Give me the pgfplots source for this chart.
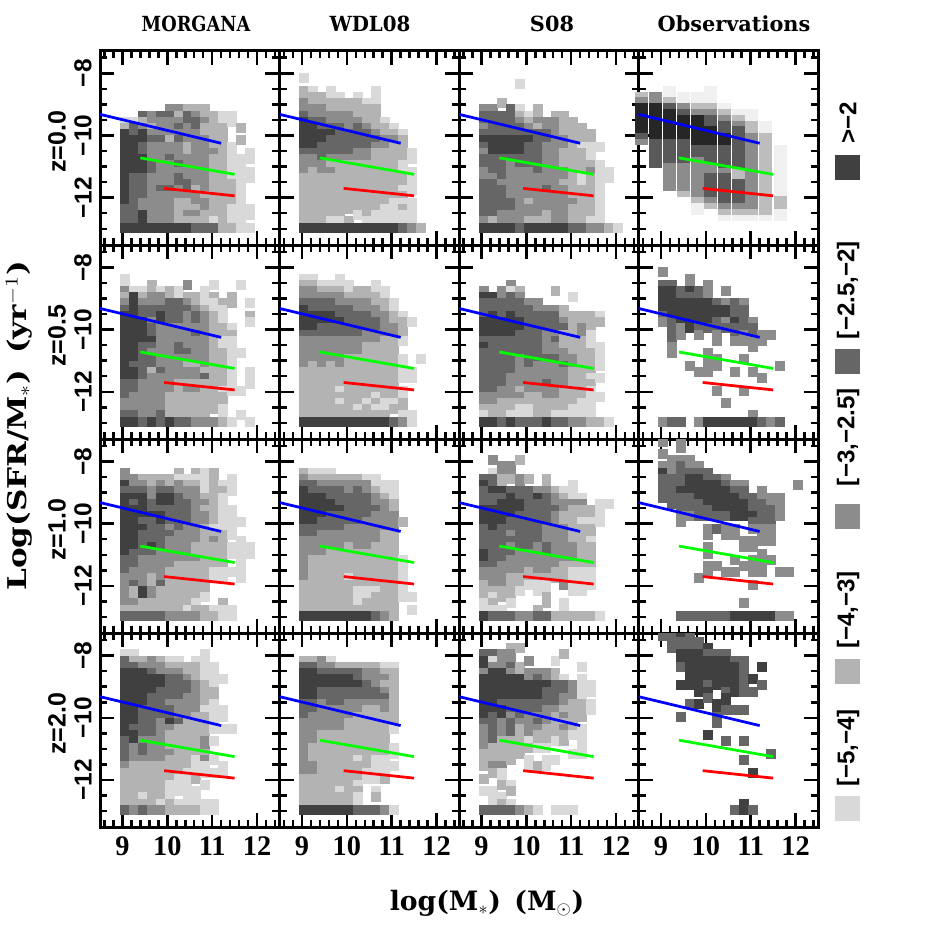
\documentclass[border=0pt]{standalone}
\usepackage{fontspec}
\usepackage{pgfplots}
\usepackage{pgfplotstable}
\pgfplotsset{compat=1.18}
\setmainfont{DejaVu Serif}
\newfontfamily\lsans{Liberation Sans}
\newfontfamily\lserif{Liberation Serif}

\definecolor{gA}{HTML}{D9D9D9}
\definecolor{gB}{HTML}{B3B3B3}
\definecolor{gC}{HTML}{8C8C8C}
\definecolor{gD}{HTML}{666666}
\definecolor{gE}{HTML}{404040}
% obs z=0 shades
\definecolor{oA}{HTML}{F0F0F0}
\definecolor{oB}{HTML}{BDBDBD}
\definecolor{oC}{HTML}{8C8C8C}
\definecolor{oD}{HTML}{595959}
\definecolor{oE}{HTML}{262626}

% tables: y of the row, then grey level (0 = empty) of 16 mass bins
\pgfplotstableread[header=false]{
-9.16 0 0 0 0 0 3 3 2 2 2 0 0 0 0 0 0
-9.36 0 0 4 3 4 4 2 4 3 2 2 1 1 0 0 0
-9.56 1 1 2 3 3 3 3 4 4 3 2 1 1 0 0 0
-9.76 2 4 3 2 3 3 4 3 4 2 2 2 0 2 0 0
-9.96 5 4 5 3 3 3 3 3 3 2 2 2 0 0 0 0
-10.16 5 5 5 4 4 2 4 3 3 3 2 2 0 2 0 0
-10.36 5 5 4 3 3 3 3 2 3 3 2 2 1 0 0 0
-10.56 5 5 4 3 3 3 3 2 3 3 3 2 1 0 1 0
-10.76 5 5 5 3 3 4 3 3 3 3 2 2 1 1 1 0
-10.96 5 5 5 4 3 3 4 3 3 3 2 2 1 1 0 0
-11.16 5 5 5 4 3 3 3 3 3 3 2 2 1 1 1 0
-11.36 5 4 4 3 3 3 4 3 3 3 2 2 1 1 1 0
-11.56 5 4 4 3 3 3 4 4 3 3 2 2 2 1 0 0
-11.76 5 4 4 3 4 4 3 4 2 3 2 2 2 1 0 0
-11.96 5 4 4 3 3 3 3 3 3 2 2 2 2 1 0 0
-12.16 5 4 3 3 3 3 2 2 3 3 2 2 2 1 0 0
-12.36 4 4 3 3 3 3 2 2 2 3 2 2 1 1 1 0
-12.56 4 4 5 3 3 3 2 3 3 2 2 2 1 1 1 0
-12.76 4 4 5 3 3 3 2 2 2 2 1 2 1 1 0 0
-12.96 5 5 5 5 5 5 5 5 4 4 4 2 2 1 1 0
}\tAa
\pgfplotstableread[header=false]{
-8.16 1 0 0 0 0 0 0 0 0 0 0 0 0 0 0 0
-8.56 2 1 0 1 0 0 0 0 1 0 0 0 0 0 0 0
-8.76 2 2 2 1 1 0 1 0 1 0 0 0 0 0 0 0
-8.96 3 2 2 2 2 2 2 1 1 0 0 0 0 0 0 0
-9.16 3 3 3 2 2 2 2 2 2 0 0 0 0 0 0 0
-9.36 4 3 3 3 3 3 2 2 2 0 0 0 0 0 0 0
-9.56 5 4 4 3 3 3 3 2 2 1 0 0 0 0 0 0
-9.76 5 5 4 4 4 3 4 3 2 2 1 0 0 0 0 0
-9.96 5 5 5 5 4 4 4 4 3 2 2 1 0 0 0 0
-10.16 5 5 5 4 4 4 4 4 4 3 3 2 0 0 0 0
-10.36 5 5 4 4 4 4 4 4 3 3 2 2 0 0 0 0
-10.56 4 4 4 4 4 4 3 3 2 2 2 2 1 0 0 0
-10.76 3 3 4 3 3 3 3 3 2 2 2 2 1 0 0 0
-10.96 3 3 3 2 2 2 2 2 2 2 2 1 0 0 0 0
-11.16 3 2 3 3 2 2 2 2 2 2 2 1 1 0 0 0
-11.36 2 2 2 2 2 2 2 2 2 2 2 2 1 0 0 0
-11.56 2 2 2 2 2 2 2 2 2 2 2 2 1 0 0 0
-11.76 2 2 2 2 2 2 2 2 2 2 2 1 1 0 0 0
-11.96 2 2 2 2 2 2 2 2 2 2 2 2 0 0 0 0
-12.16 2 2 2 2 2 2 2 2 2 2 1 1 1 0 0 0
-12.36 2 2 2 2 2 2 2 2 2 1 1 2 1 0 0 0
-12.56 2 2 2 2 2 0 1 2 1 1 1 1 1 0 0 0
-12.76 2 2 2 1 1 2 0 1 1 1 1 1 1 0 0 0
-12.96 5 5 5 5 5 5 5 5 5 5 5 4 3 2 0 0
}\tAb
\pgfplotstableread[header=false]{
-8.36 0 0 0 0 1 0 0 0 0 0 0 0 0 0 0 0
-8.96 0 0 2 0 0 0 0 0 0 0 0 0 0 0 0 0
-9.16 3 3 0 4 1 0 2 0 0 0 0 0 0 0 0 0
-9.36 4 4 4 4 2 1 2 0 2 2 0 0 0 0 0 0
-9.56 4 4 4 4 3 2 3 3 3 2 2 0 0 0 0 0
-9.76 3 4 4 4 4 3 2 3 3 2 2 2 0 0 0 0
-9.96 4 4 4 4 4 4 4 4 3 2 2 2 2 0 0 0
-10.16 5 5 5 5 5 5 4 4 3 3 2 2 2 0 0 0
-10.36 4 5 5 5 5 4 4 3 3 3 2 1 1 1 0 0
-10.56 3 5 5 5 5 4 4 3 3 2 2 2 1 0 0 0
-10.76 4 4 4 4 4 4 4 3 3 2 2 2 1 0 0 0
-10.96 4 4 4 3 4 4 4 3 3 2 2 2 2 1 0 0
-11.16 3 4 4 3 3 3 4 3 3 3 2 2 3 1 1 0
-11.36 3 3 4 3 3 3 3 3 3 3 2 1 2 1 1 0
-11.56 4 4 3 3 3 3 3 3 3 2 2 1 2 1 0 0
-11.76 4 4 4 3 3 3 3 4 3 3 2 2 2 1 0 0
-11.96 4 4 4 3 3 3 3 3 3 3 2 2 2 1 0 0
-12.16 4 4 4 4 3 2 3 3 3 3 3 2 2 1 0 0
-12.36 4 4 4 4 3 3 3 3 3 3 2 2 2 1 0 0
-12.56 4 4 3 3 3 3 3 2 3 3 2 2 2 1 0 0
-12.76 3 2 3 3 3 2 2 2 3 3 2 2 1 1 0 0
-12.96 5 5 5 5 4 5 5 5 5 5 4 4 3 3 2 1
}\tAc

\pgfplotstableread[header=false]{
-8.36 1 0 0 0 0 0 0 0 0 0 0 0 0 0 0 0
-8.56 1 0 0 2 0 0 0 3 0 0 1 0 0 1 0 0
-8.76 3 1 1 2 1 2 1 0 0 1 0 0 0 0 0 0
-8.96 2 5 2 3 3 2 1 2 2 1 2 0 2 0 0 0
-9.16 3 5 3 3 3 4 4 3 2 1 1 2 2 0 1 0
-9.36 4 5 4 4 4 4 4 4 3 2 1 1 0 0 0 0
-9.56 5 5 4 4 5 4 4 3 4 3 2 1 0 0 2 0
-9.76 5 5 5 3 5 4 4 3 4 3 2 1 0 0 1 0
-9.96 5 5 5 4 3 3 3 3 3 3 2 2 1 0 0 0
-10.16 5 5 5 4 3 3 3 3 4 3 2 2 2 0 0 0
-10.36 5 5 5 5 3 3 3 3 3 3 2 1 1 0 0 0
-10.56 5 5 4 4 3 3 4 3 3 3 2 1 1 0 0 0
-10.76 5 5 4 3 3 3 4 4 3 3 2 2 1 1 0 0
-10.96 5 5 4 4 3 3 3 3 3 3 2 2 1 0 0 0
-11.16 5 4 4 4 3 3 3 2 2 3 2 2 1 0 0 0
-11.36 5 5 4 2 4 3 3 3 3 2 2 2 1 0 1 0
-11.56 5 5 4 3 3 3 3 3 3 4 2 2 1 0 1 0
-11.76 4 4 3 3 3 3 2 2 2 2 2 2 1 0 1 0
-11.96 4 4 3 3 3 3 2 3 3 2 2 1 1 1 0 0
-12.16 4 3 3 3 3 2 2 2 2 2 2 2 0 0 0 0
-12.36 3 3 3 3 3 2 2 2 2 2 2 2 0 0 0 0
-12.56 3 3 3 3 3 2 2 2 2 2 2 1 0 0 0 0
-12.76 4 4 3 3 4 2 2 2 2 2 0 1 0 1 0 0
-12.96 5 5 4 5 4 5 4 4 3 3 3 2 1 0 1 0
}\tBa
\pgfplotstableread[header=false]{
-8.36 1 1 0 0 1 0 0 0 0 0 0 0 0 0 0 0
-8.56 2 2 1 1 1 1 0 0 1 0 0 0 0 0 0 0
-8.76 3 3 2 2 2 1 2 2 1 1 0 0 0 0 0 0
-8.96 3 3 3 3 3 2 2 2 2 1 0 0 0 0 0 0
-9.16 4 4 4 4 3 3 3 3 2 2 1 0 0 0 0 0
-9.36 5 4 4 4 4 4 3 3 3 2 1 0 0 0 0 0
-9.56 5 5 5 5 4 4 4 4 3 3 2 1 0 0 0 0
-9.76 5 5 5 5 5 4 4 4 4 3 2 2 1 0 0 0
-9.96 5 5 4 4 4 4 4 4 4 3 3 2 0 0 0 0
-10.16 4 4 4 4 4 4 4 3 3 3 3 2 0 0 0 0
-10.36 3 3 3 3 3 3 3 3 3 2 2 1 0 0 0 0
-10.56 3 3 3 3 3 3 3 2 2 2 2 0 0 0 0 0
-10.76 3 3 3 3 3 3 3 2 2 2 2 0 0 0 0 0
-10.96 3 3 3 3 3 2 2 2 2 2 2 1 0 1 0 0
-11.16 3 2 3 2 3 2 2 2 2 2 2 1 0 0 0 0
-11.36 2 2 2 2 2 2 2 2 2 2 2 1 1 0 0 0
-11.56 2 2 2 2 2 2 2 2 2 2 2 1 1 0 0 0
-11.76 2 2 2 2 2 2 2 2 2 2 2 0 0 0 0 0
-11.96 2 2 2 2 1 2 2 2 2 2 2 1 0 0 0 0
-12.16 2 2 2 2 2 2 2 2 1 2 2 1 0 0 0 0
-12.36 2 2 2 2 1 2 2 1 2 1 1 2 0 0 0 0
-12.56 2 2 2 2 2 2 1 2 1 1 2 2 0 0 0 0
-12.76 2 2 2 2 2 2 2 2 2 2 0 1 1 0 0 0
-12.96 5 5 5 5 5 5 5 5 5 5 4 3 1 0 0 0
}\tBb
\pgfplotstableread[header=false]{
-8.56 0 0 0 3 0 0 0 0 0 0 0 0 0 0 0 0
-8.76 3 0 3 1 2 0 0 0 2 0 0 0 0 0 0 0
-8.96 5 5 3 4 3 0 0 0 0 0 1 0 0 0 0 0
-9.16 4 4 4 4 4 3 3 0 0 0 0 0 0 0 0 0
-9.36 4 4 4 4 4 4 3 3 3 2 0 0 0 0 0 0
-9.56 4 5 4 5 4 4 4 4 4 2 2 2 2 1 0 0
-9.76 5 5 5 5 5 4 4 4 4 3 2 2 2 2 0 0
-9.96 5 5 5 5 5 4 4 4 4 4 2 3 2 0 0 0
-10.16 5 5 5 5 4 4 4 3 3 2 2 3 1 0 0 0
-10.36 4 4 4 4 4 4 4 3 4 2 2 2 1 0 0 0
-10.56 5 4 4 4 4 4 4 3 3 2 2 2 1 1 0 0
-10.76 4 4 4 4 4 4 4 3 3 3 2 2 2 1 0 0
-10.96 4 4 4 4 3 4 4 4 4 3 3 2 2 1 0 0
-11.16 4 4 4 4 3 4 3 3 3 4 3 2 2 1 0 0
-11.36 4 4 4 4 3 3 3 3 3 3 2 2 2 0 0 0
-11.56 4 4 4 3 3 3 3 3 3 3 2 2 1 1 0 0
-11.76 4 4 4 3 3 3 3 4 3 3 2 2 2 0 0 0
-11.96 4 4 3 3 2 3 3 3 3 2 2 2 1 0 0 0
-12.16 3 3 3 3 3 2 2 3 3 2 2 2 1 1 0 0
-12.36 3 3 2 2 2 2 2 2 2 2 2 1 1 0 0 0
-12.56 2 2 2 2 1 1 2 2 2 2 1 1 1 0 0 0
-12.76 1 2 2 1 1 1 2 2 1 1 1 1 1 0 0 0
-12.96 5 5 4 5 4 4 4 5 4 4 3 3 2 2 1 0
}\tBc
\pgfplotstableread[header=false]{
-8.16 3 0 0 0 0 0 0 0 0 0 0 0 0 0 0 0
-8.36 0 0 0 3 0 0 0 0 0 0 0 0 0 0 0 0
-8.56 4 4 0 3 0 3 0 0 0 0 0 0 0 0 0 0
-8.76 5 5 4 5 4 3 0 3 0 0 0 0 0 0 0 0
-8.96 5 5 4 4 4 3 0 0 0 0 0 0 0 0 0 0
-9.16 5 5 5 5 5 5 4 3 4 3 0 0 0 0 0 0
-9.36 5 5 5 5 5 5 5 5 4 4 0 0 0 0 0 0
-9.56 4 5 5 5 5 5 5 5 4 4 0 0 0 0 0 0
-9.76 3 4 5 5 5 5 4 3 5 4 3 0 0 0 0 0
-9.96 0 4 3 5 4 4 4 4 4 4 4 0 0 0 0 0
-10.16 0 4 3 0 3 0 3 0 4 3 4 3 3 0 0 0
-10.36 0 4 0 0 0 0 3 0 3 3 3 3 0 0 0 0
-10.56 0 3 0 0 0 0 0 0 0 0 3 0 0 0 0 0
-10.76 0 3 0 0 0 3 0 0 0 0 0 0 0 0 0 0
-10.96 0 0 0 0 0 3 3 0 0 3 0 0 0 0 0 0
-11.16 0 0 0 3 0 3 3 0 0 0 0 0 0 3 0 0
-11.36 0 0 0 0 3 3 0 0 3 0 3 0 0 0 0 0
-11.56 0 0 0 0 0 0 0 0 0 0 0 3 0 0 0 0
-11.96 0 0 0 0 0 0 3 0 0 3 0 0 0 0 0 0
-12.36 0 0 0 0 0 0 0 3 0 0 0 0 0 0 0 0
-12.76 0 0 0 0 0 0 0 0 0 0 3 0 0 0 0 0
-12.96 3 4 4 0 3 5 5 5 5 5 5 4 3 4 0 0
}\tBd

\pgfplotstableread[header=false]{
-8.36 3 0 0 0 0 0 2 0 2 1 2 0 0 0 0 0
-8.56 3 3 2 2 2 2 1 1 1 1 2 0 1 0 0 0
-8.76 5 3 3 2 3 2 3 2 2 1 2 1 1 0 0 0
-8.96 4 4 4 3 4 4 3 3 3 1 2 2 1 0 0 0
-9.16 5 5 5 3 5 5 4 3 3 2 2 1 0 0 0 0
-9.36 5 4 5 4 5 5 4 4 3 3 2 1 0 0 0 0
-9.56 5 5 5 4 4 4 4 4 3 2 2 1 1 0 0 0
-9.76 5 5 5 5 5 4 4 4 3 3 2 1 1 0 0 0
-9.96 5 5 4 4 5 4 4 4 3 3 2 1 1 1 0 0
-10.16 5 5 5 4 4 3 4 3 3 2 1 1 1 0 0 0
-10.36 5 5 4 4 4 4 3 3 3 2 2 2 1 0 0 0
-10.56 5 5 4 4 4 3 3 3 3 2 3 2 0 1 0 0
-10.76 5 5 4 5 4 3 3 3 2 2 2 2 1 1 1 0
-10.96 5 4 4 4 3 3 3 3 2 2 2 2 1 1 1 0
-11.16 4 4 3 3 3 3 3 3 3 2 2 2 0 1 0 0
-11.36 4 4 3 3 3 3 2 2 2 2 2 2 0 1 0 0
-11.56 4 3 3 3 3 2 2 2 2 2 1 1 1 1 0 0
-11.76 3 3 3 2 3 2 2 2 2 2 1 1 0 1 0 0
-11.96 3 4 3 2 4 2 2 2 2 2 0 0 0 0 0 0
-12.16 3 2 5 3 2 2 2 2 2 2 0 0 0 0 0 0
-12.36 3 2 5 3 2 2 2 2 2 1 0 0 0 0 0 0
-12.56 3 3 2 2 2 2 2 2 1 0 0 2 0 0 0 0
-12.76 2 2 2 2 2 2 2 1 2 2 1 1 1 0 0 0
-12.96 4 4 4 4 4 3 3 3 3 2 2 1 1 0 0 0
}\tCa
\pgfplotstableread[header=false]{
-8.36 2 1 1 1 0 0 0 0 0 0 0 0 0 0 0 0
-8.56 3 2 2 2 2 2 2 1 1 0 0 0 0 0 0 0
-8.76 4 4 3 3 3 3 3 3 1 1 1 0 0 0 0 0
-8.96 5 4 4 4 4 3 4 3 2 1 1 0 0 0 0 0
-9.16 5 5 5 4 4 4 4 4 3 2 1 0 0 0 0 0
-9.36 5 5 5 5 4 4 4 4 3 3 2 0 0 0 0 0
-9.56 5 5 5 5 5 4 4 4 4 3 2 0 0 0 0 0
-9.76 5 5 5 4 4 4 4 4 3 3 3 0 0 0 0 0
-9.96 5 5 4 4 4 4 4 3 3 3 3 2 0 0 0 0
-10.16 4 4 4 4 4 3 3 3 3 3 3 0 0 0 0 0
-10.36 4 4 3 3 3 3 3 3 3 2 2 0 0 0 0 0
-10.56 3 3 3 3 3 3 3 3 3 2 2 0 0 0 0 0
-10.76 3 3 3 3 3 2 3 3 2 2 2 0 0 0 0 0
-10.96 3 3 3 2 2 2 2 2 2 2 2 0 0 0 0 0
-11.16 3 2 2 2 2 2 2 2 2 2 2 1 0 0 0 0
-11.36 3 2 2 2 2 2 2 2 2 2 2 1 0 0 0 0
-11.56 3 2 2 2 2 2 2 2 2 2 2 1 0 0 0 0
-11.76 3 2 2 2 2 1 2 2 2 2 2 1 0 0 0 0
-11.96 2 2 2 2 2 2 2 2 2 2 2 1 0 0 0 0
-12.16 2 2 2 2 2 2 1 1 1 2 2 1 0 0 0 0
-12.36 2 2 2 2 2 2 1 1 2 2 2 1 1 0 0 0
-12.56 2 2 2 2 2 2 1 2 2 2 2 0 0 0 0 0
-12.76 2 2 2 2 2 2 2 2 2 2 2 0 1 0 0 0
-12.96 5 5 5 5 5 5 5 5 4 3 2 0 0 0 0 0
}\tCb
\pgfplotstableread[header=false]{
-7.96 0 3 0 0 2 0 0 0 0 0 0 0 0 0 0 0
-8.16 0 0 3 3 0 0 0 0 0 0 0 0 0 0 0 0
-8.36 0 1 3 3 0 0 0 0 0 0 0 0 0 0 0 0
-8.56 4 4 2 2 3 2 0 2 0 0 0 0 0 0 0 0
-8.76 5 4 2 0 3 0 0 2 0 0 1 0 0 0 0 0
-8.96 4 5 5 4 4 4 3 3 2 1 1 0 0 0 0 0
-9.16 4 4 4 5 4 4 5 4 3 2 1 1 0 0 0 0
-9.36 4 4 5 5 5 4 4 4 3 3 3 3 0 1 1 0
-9.56 5 5 5 5 5 4 4 4 4 3 2 2 2 1 0 0
-9.76 5 5 5 5 4 4 4 4 3 2 2 2 2 1 0 0
-9.96 5 5 5 4 4 4 4 4 3 2 2 1 1 1 0 0
-10.16 4 5 4 4 4 4 4 3 3 3 2 2 2 0 0 0
-10.36 4 4 4 3 4 4 4 3 3 3 2 2 2 0 0 0
-10.56 4 4 4 4 4 4 4 3 3 3 2 2 1 0 0 0
-10.76 4 4 4 3 4 4 3 4 3 3 3 2 2 0 0 0
-10.96 5 4 4 4 3 3 3 4 3 3 3 2 2 0 0 0
-11.16 5 4 4 3 3 3 3 3 3 3 3 2 2 0 0 0
-11.36 4 4 3 3 3 3 3 3 3 2 2 2 2 0 0 0
-11.56 3 3 3 3 3 2 3 3 2 2 1 1 1 0 0 0
-11.76 3 3 3 2 2 2 2 2 2 2 1 1 1 0 0 0
-11.96 2 3 3 2 2 1 1 1 0 3 1 1 1 0 0 0
-12.16 2 2 2 2 1 0 1 1 0 0 1 1 0 0 0 0
-12.36 2 1 2 2 0 0 0 2 0 0 0 0 0 0 0 0
-12.56 1 2 0 1 0 0 0 2 0 1 0 0 0 0 0 0
-12.76 1 1 1 0 0 0 2 0 0 1 0 0 0 0 0 0
-12.96 5 4 4 4 3 3 4 4 2 2 2 2 2 1 0 0
}\tCc
\pgfplotstableread[header=false]{
-7.36 3 0 3 0 0 0 0 0 0 0 0 0 0 0 0 0
-7.56 0 0 3 0 0 0 0 0 0 0 0 0 0 0 0 0
-7.76 3 0 0 0 0 0 0 0 0 0 0 0 0 0 0 0
-7.96 0 3 3 3 0 0 0 0 0 0 0 0 0 0 0 0
-8.16 3 3 4 3 3 0 0 0 0 0 0 0 0 0 0 0
-8.36 5 3 4 4 4 4 0 0 0 0 0 0 0 0 0 0
-8.56 4 4 4 5 5 4 4 3 0 0 0 0 0 0 0 0
-8.76 4 4 4 5 5 5 5 4 3 3 0 0 0 0 0 3
-8.96 4 4 5 5 5 5 5 5 4 4 0 3 0 0 0 0
-9.16 4 4 4 4 5 5 5 5 5 4 4 3 3 3 0 0
-9.36 0 4 4 4 4 5 5 5 5 5 4 4 3 3 0 0
-9.56 0 0 4 4 4 4 5 5 5 5 4 4 4 3 0 0
-9.76 0 0 3 3 4 4 4 4 5 5 5 4 4 3 0 0
-9.96 0 0 3 0 0 0 0 0 0 0 4 4 4 0 0 0
-10.16 0 0 0 0 0 3 4 3 3 0 3 3 3 0 0 0
-10.36 0 0 0 0 0 3 0 3 3 0 0 3 3 0 0 0
-10.56 0 0 0 0 0 0 0 0 0 3 3 3 3 0 0 0
-10.76 0 0 0 0 0 3 0 0 0 3 3 0 0 0 0 0
-10.96 0 0 0 0 0 3 0 0 0 0 0 3 0 0 0 0
-11.16 0 0 0 0 0 0 0 0 3 0 3 3 3 0 0 0
-11.36 0 0 0 0 0 3 3 0 0 3 3 3 0 0 0 0
-11.56 0 0 0 0 0 3 0 3 3 0 3 3 0 3 3 0
-11.76 0 0 0 0 3 0 0 0 0 0 0 0 0 0 0 0
-11.96 0 0 0 0 0 0 0 0 0 0 3 0 0 0 0 0
-12.56 0 0 0 0 0 0 0 0 0 3 0 0 0 0 0 0
-12.96 0 0 4 4 4 4 4 4 5 5 5 5 5 3 3 0
}\tCd

\pgfplotstableread[header=false]{
-7.96 1 1 0 0 0 0 0 0 0 1 0 0 0 0 0 0
-8.16 4 2 2 3 2 1 1 0 1 1 0 0 0 0 0 0
-8.36 4 4 3 3 3 2 2 2 2 1 1 0 0 0 0 0
-8.56 5 5 5 4 3 3 3 2 2 1 1 0 0 0 0 0
-8.76 5 5 5 5 5 4 4 3 2 1 1 1 0 0 0 0
-8.96 5 5 5 5 5 4 4 4 3 2 1 0 0 0 0 0
-9.16 5 5 5 5 4 4 4 4 3 2 2 0 0 0 0 0
-9.36 5 5 5 4 4 4 4 3 3 2 2 0 0 0 0 0
-9.56 5 5 5 4 4 3 3 3 3 2 1 0 0 0 0 0
-9.76 5 5 4 4 4 4 3 3 3 1 1 1 0 0 0 0
-9.96 5 5 4 4 4 4 3 3 2 2 1 1 0 0 0 0
-10.16 5 5 4 4 3 5 4 2 2 2 1 0 0 0 0 0
-10.36 5 4 4 4 3 3 2 2 2 2 1 1 1 0 0 0
-10.56 5 5 4 4 3 2 2 2 2 2 0 0 0 0 0 0
-10.76 4 5 3 3 3 2 2 2 2 3 1 0 0 0 0 0
-10.96 4 3 4 3 3 2 2 2 2 3 0 0 0 0 0 0
-11.16 4 3 4 3 3 3 2 2 2 2 0 0 0 0 0 0
-11.36 4 3 3 3 3 2 2 2 1 3 1 0 0 0 0 0
-11.56 3 2 2 2 2 2 2 2 1 1 0 1 0 0 0 0
-11.76 2 2 2 2 2 2 2 1 1 1 1 1 0 0 0 0
-11.96 2 2 2 2 2 2 1 1 2 0 0 0 0 0 0 0
-12.16 2 2 2 2 2 1 1 1 0 1 0 0 0 0 0 0
-12.36 2 2 2 2 2 1 1 1 1 0 0 0 0 0 0 0
-12.56 2 2 1 2 2 1 0 1 1 0 0 0 0 0 0 0
-12.76 2 2 2 2 1 2 1 1 1 1 1 0 0 0 0 0
-12.96 4 3 4 3 3 2 2 2 2 1 1 0 0 0 0 0
}\tDa
\pgfplotstableread[header=false]{
-8.16 2 2 3 1 0 0 0 0 0 0 0 0 0 0 0 0
-8.36 4 4 3 3 2 2 2 2 2 1 1 0 0 0 0 0
-8.56 5 5 4 4 4 4 4 3 3 2 2 0 0 0 0 0
-8.76 5 5 5 5 5 5 4 3 3 3 2 0 0 0 0 0
-8.96 5 5 5 5 5 5 5 4 3 2 2 0 0 0 0 0
-9.16 5 5 4 4 4 4 4 4 4 3 2 0 0 0 0 0
-9.36 5 5 4 4 4 4 4 4 4 4 2 0 0 0 0 0
-9.56 4 4 3 4 4 3 3 3 3 3 2 0 0 0 0 0
-9.76 4 4 3 3 3 3 3 2 2 3 2 0 0 0 0 0
-9.96 4 3 3 3 3 3 2 2 2 2 2 0 0 0 0 0
-10.16 3 3 3 3 3 2 2 2 2 2 2 0 0 0 0 0
-10.36 3 3 3 3 3 2 2 2 2 2 1 0 0 0 0 0
-10.56 3 3 2 2 2 2 2 2 2 2 0 0 0 0 0 0
-10.76 3 3 2 2 2 2 2 2 2 2 0 0 0 0 0 0
-10.96 3 2 2 2 2 2 2 2 2 2 1 0 0 0 0 0
-11.16 3 2 2 2 2 2 2 2 2 2 1 0 0 0 0 0
-11.36 3 2 2 2 2 2 1 2 1 1 0 0 0 0 0 0
-11.56 3 3 2 2 2 2 2 2 1 1 1 0 0 0 0 0
-11.76 3 3 2 2 2 2 2 1 1 1 0 0 0 0 0 0
-11.96 2 2 2 2 2 2 2 1 1 2 0 0 0 0 0 0
-12.16 2 2 2 2 2 2 1 0 0 0 0 0 0 0 0 0
-12.36 2 2 2 2 1 2 2 0 1 0 0 0 0 0 0 0
-12.56 2 2 2 2 2 2 1 0 2 0 0 0 0 0 0 0
-12.76 2 2 2 2 2 2 1 0 0 0 0 0 0 0 0 0
-12.96 5 5 5 5 5 5 4 4 4 3 1 0 0 0 0 0
}\tDb
\pgfplotstableread[header=false]{
-7.76 0 0 0 2 2 0 0 0 0 0 0 0 0 0 0 0
-7.96 4 4 3 3 0 0 0 0 0 2 0 0 0 0 0 0
-8.16 5 1 3 3 0 3 0 0 1 0 0 0 0 0 0 0
-8.36 5 3 3 4 2 0 0 0 0 0 0 1 0 0 0 0
-8.56 3 5 5 3 2 3 3 3 2 0 0 0 0 0 0 0
-8.76 5 5 5 5 5 3 4 3 2 1 0 1 0 0 0 0
-8.96 5 5 5 5 5 5 5 5 4 4 3 1 1 0 0 0
-9.16 5 5 5 5 5 5 5 4 4 4 3 1 1 0 0 0
-9.36 5 5 5 5 5 5 5 4 4 3 3 1 0 0 0 0
-9.56 5 5 4 4 4 4 4 4 4 3 2 2 1 0 0 0
-9.76 5 5 5 4 4 4 4 3 3 2 2 2 1 0 0 0
-9.96 5 4 5 3 4 3 3 3 2 3 2 2 0 0 0 0
-10.16 4 4 3 4 3 3 4 3 2 2 2 0 0 0 0 0
-10.36 3 4 3 4 2 3 3 2 2 3 2 1 0 0 0 0
-10.56 3 4 3 4 2 3 2 2 2 2 1 1 0 0 0 0
-10.76 3 4 2 2 2 1 2 2 1 2 0 1 0 0 0 0
-10.96 3 2 2 2 2 2 1 1 0 0 0 1 0 0 0 0
-11.16 2 2 2 2 2 0 0 0 0 0 1 1 0 0 0 0
-11.36 2 2 2 2 0 1 0 1 1 0 0 0 0 0 0 0
-11.56 2 3 3 0 0 1 2 1 0 0 0 0 0 0 0 0
-11.76 0 2 1 0 0 0 0 0 0 0 0 0 0 0 0 0
-11.96 2 0 1 0 0 0 0 0 0 0 0 0 0 0 0 0
-12.16 0 0 2 1 0 0 0 0 0 0 0 0 0 0 0 0
-12.36 1 1 0 2 0 0 0 0 0 0 0 0 0 0 0 0
-12.56 0 1 1 0 0 0 0 0 0 0 0 0 0 0 0 0
-12.76 0 1 2 1 0 0 0 0 0 0 0 0 0 0 0 0
-12.96 4 4 4 4 3 2 1 0 1 1 1 0 0 0 0 0
}\tDc
\pgfplotstableread[header=false]{
-7.36 4 4 5 4 0 0 0 0 0 0 0 0 0 0 0 0
-7.56 0 4 4 4 4 0 0 0 0 0 0 0 0 0 0 0
-7.76 0 4 4 4 4 5 0 0 0 0 0 0 0 0 0 0
-7.96 0 0 5 5 5 4 4 4 0 0 0 0 0 0 0 0
-8.16 0 0 5 5 5 5 5 5 4 4 0 0 0 0 0 0
-8.36 0 0 4 5 5 5 5 5 5 4 0 5 0 0 0 0
-8.56 0 0 0 5 5 5 5 5 5 4 0 0 0 0 0 0
-8.76 0 0 0 5 5 5 5 5 5 4 5 0 0 0 0 0
-8.96 0 0 5 5 5 4 5 5 5 4 0 4 0 0 0 0
-9.16 0 0 0 0 5 5 0 4 5 4 4 0 0 0 0 0
-9.36 0 0 0 0 0 4 0 5 0 0 0 0 0 0 0 0
-9.56 0 0 0 4 5 0 5 5 0 0 0 0 0 0 0 0
-9.76 0 0 0 0 0 0 5 4 4 4 0 0 0 0 0 0
-9.96 0 0 4 0 0 0 4 0 0 0 0 0 0 0 0 0
-10.16 0 0 0 0 0 0 4 0 0 0 0 0 0 0 0 0
-10.56 0 0 0 0 0 5 0 0 0 0 0 0 0 0 0 0
-10.76 0 0 0 0 0 0 0 4 0 4 0 0 0 0 0 0
-11.16 0 0 0 0 0 0 0 0 0 0 0 0 4 0 0 0
-11.36 0 0 0 0 0 0 0 0 0 4 0 0 0 0 0 0
-11.76 0 0 0 0 0 0 0 0 0 0 5 0 0 0 0 0
-12.76 0 0 0 0 0 0 0 0 0 5 0 0 0 0 0 0
-12.96 0 0 0 0 0 0 0 0 4 5 4 0 0 0 0 0
}\tDd

\def\ms{2.69pt}
\pgfplotsset{
  panel/.style={
    anchor=south west, scale only axis, width=107.7pt, height=116.46pt,
    xmin=8.5, xmax=12.5, ymin=-13.524, ymax=-7.283,
    xtick={9,10,11,12}, ytick={-8,-10,-12},
    minor xtick={8.6,8.8,9.2,9.4,9.6,9.8,10.2,10.4,10.6,10.8,11.2,11.4,11.6,11.8,12.2,12.4},
    minor ytick={-7.5,-8.5,-9,-9.5,-10.5,-11,-11.5,-12.5,-13},
    tick align=inside, major tick length=8.4pt, minor tick length=4.2pt,
    axis line style={line width=1.8pt},
    every tick/.style={black,line width=1.5pt},
    xticklabels={}, yticklabels={},
    colormap={cells}{color(1)=(gA) color(2)=(gB) color(3)=(gC) color(4)=(gD) color(5)=(gE)},
    point meta min=1, point meta max=5,
    clip mode=individual, clip marker paths=true,
  },
  botrow/.style={xticklabels={9,10,11,12},
    xticklabel style={font=\lserif\bfseries\fontsize{17}{17}\selectfont}, xticklabel shift=2pt},
  leftcol/.style={yticklabels={−8,−10,−12},
    yticklabel style={rotate=90,anchor=south,font=\lsans\bfseries\fontsize{14.7}{15}\selectfont},
    yticklabel shift=1.5pt},
}
\newcommand{\cells}[1]{%
  \pgfplotsinvokeforeach{1,...,16}{%
    \addplot[only marks, scatter, scatter src=explicit, mark=square*, mark size=\ms,
      mark options={line width=0pt},
      scatter/use mapped color={draw=mapped color,fill=mapped color}]
      table[x expr={\thisrowno{##1}>0 ? 8.85+0.2*##1 : nan}, y index=0, meta index=##1] {#1};
  }}
\newcommand{\fits}{%
  \addplot[blue, line width=1.65pt] coordinates {(8.5,-9.32)(11.2,-10.25)};
  \addplot[green, line width=1.65pt] coordinates {(9.4,-10.72)(11.5,-11.25)};
  \addplot[red, line width=1.65pt] coordinates {(9.93,-11.7)(11.5,-11.94)};
}
\newcommand{\seg}[5]{\addplot[fill=#5,draw=none] coordinates {(#1,#3)(#2,#3)(#2,#4)(#1,#4)} -- cycle;}

\begin{document}
\begin{tikzpicture}
\useasboundingbox (0,0) rectangle (555.6pt,555.6pt);

% z=0
\begin{axis}[panel,leftcol,at={(60pt,408.54pt)}] \cells{\tAa} \fits \end{axis}
\begin{axis}[panel,at={(167.7pt,408.54pt)}] \cells{\tAb} \fits \end{axis}
\begin{axis}[panel,at={(275.4pt,408.54pt)}] \cells{\tAc} \fits \end{axis}
\begin{axis}[panel,at={(383.1pt,408.54pt)},clip=false]
  \seg{8.42}{8.71}{-8.59}{-8.77}{oB}\seg{8.42}{8.71}{-8.77}{-8.96}{oC}\seg{8.42}{8.71}{-8.96}{-9.93}{oE}\seg{8.42}{8.71}{-9.93}{-10.12}{oD}\seg{8.42}{8.71}{-10.12}{-10.29}{oC}
  \seg{8.73}{9.02}{-8.59}{-8.96}{oC}\seg{8.73}{9.02}{-8.96}{-10.12}{oE}\seg{8.73}{9.02}{-10.12}{-11.05}{oD}
  \seg{9.04}{9.33}{-8.40}{-8.77}{oA}\seg{9.04}{9.33}{-8.77}{-8.96}{oB}\seg{9.04}{9.33}{-8.96}{-9.15}{oD}\seg{9.04}{9.33}{-9.15}{-10.12}{oE}\seg{9.04}{9.33}{-10.12}{-10.87}{oD}\seg{9.04}{9.33}{-10.87}{-11.80}{oC}
  \seg{9.35}{9.64}{-8.59}{-8.96}{oA}\seg{9.35}{9.64}{-8.96}{-9.15}{oC}\seg{9.35}{9.64}{-9.15}{-9.34}{oD}\seg{9.35}{9.64}{-9.34}{-10.12}{oE}\seg{9.35}{9.64}{-10.12}{-10.87}{oD}\seg{9.35}{9.64}{-10.87}{-11.80}{oC}\seg{9.35}{9.64}{-11.80}{-11.99}{oB}
  \seg{9.67}{9.955}{-8.59}{-8.96}{oA}\seg{9.67}{9.955}{-8.96}{-9.15}{oB}\seg{9.67}{9.955}{-9.15}{-9.34}{oC}\seg{9.67}{9.955}{-9.34}{-10.30}{oE}\seg{9.67}{9.955}{-10.30}{-10.68}{oD}\seg{9.67}{9.955}{-10.68}{-11.99}{oC}\seg{9.67}{9.955}{-11.99}{-12.18}{oB}\seg{9.67}{9.955}{-12.18}{-12.56}{oA}
  \seg{9.965}{10.25}{-8.40}{-8.96}{oA}\seg{9.965}{10.25}{-8.96}{-9.15}{oB}\seg{9.965}{10.25}{-9.15}{-9.34}{oC}\seg{9.965}{10.25}{-9.34}{-9.71}{oD}\seg{9.965}{10.25}{-9.71}{-10.30}{oE}\seg{9.965}{10.25}{-10.30}{-10.89}{oD}\seg{9.965}{10.25}{-10.89}{-11.22}{oC}\seg{9.965}{10.25}{-11.22}{-11.99}{oD}\seg{9.965}{10.25}{-11.99}{-12.18}{oC}\seg{9.965}{10.25}{-12.18}{-12.37}{oB}
  \seg{10.27}{10.56}{-8.96}{-9.15}{oA}\seg{10.27}{10.56}{-9.15}{-9.34}{oB}\seg{10.27}{10.56}{-9.34}{-9.53}{oC}\seg{10.27}{10.56}{-9.53}{-9.93}{oD}\seg{10.27}{10.56}{-9.93}{-10.30}{oE}\seg{10.27}{10.56}{-10.30}{-11.05}{oD}\seg{10.27}{10.56}{-11.05}{-11.22}{oC}\seg{10.27}{10.56}{-11.22}{-12.18}{oD}\seg{10.27}{10.56}{-12.18}{-12.37}{oC}\seg{10.27}{10.56}{-12.37}{-12.56}{oB}\seg{10.27}{10.56}{-12.56}{-12.74}{oA}
  \seg{10.58}{10.87}{-9.15}{-9.34}{oA}\seg{10.58}{10.87}{-9.34}{-9.53}{oB}\seg{10.58}{10.87}{-9.53}{-9.71}{oC}\seg{10.58}{10.87}{-9.71}{-11.05}{oD}\seg{10.58}{10.87}{-11.05}{-11.40}{oB}\seg{10.58}{10.87}{-11.40}{-12.18}{oD}\seg{10.58}{10.87}{-12.18}{-12.37}{oC}\seg{10.58}{10.87}{-12.37}{-12.56}{oB}\seg{10.58}{10.87}{-12.56}{-12.74}{oA}
  \seg{10.88}{11.17}{-9.15}{-9.53}{oA}\seg{10.88}{11.17}{-9.53}{-9.91}{oB}\seg{10.88}{11.17}{-9.91}{-12.37}{oC}\seg{10.88}{11.17}{-12.37}{-12.56}{oB}\seg{10.88}{11.17}{-12.56}{-12.74}{oA}
  \seg{11.195}{11.485}{-9.53}{-9.91}{oA}\seg{11.195}{11.485}{-9.91}{-12.56}{oB}\seg{11.195}{11.485}{-12.56}{-12.74}{oA}
  \seg{11.51}{11.8}{-10.29}{-11.94}{oA}\seg{11.51}{11.8}{-11.94}{-12.37}{oB}\seg{11.51}{11.8}{-12.37}{-12.74}{oA}
  \fits
\end{axis}

% z=0.5
\begin{axis}[panel,leftcol,at={(60pt,292.08pt)}] \cells{\tBa} \fits \end{axis}
\begin{axis}[panel,at={(167.7pt,292.08pt)}] \cells{\tBb} \fits \end{axis}
\begin{axis}[panel,at={(275.4pt,292.08pt)}] \cells{\tBc} \fits \end{axis}
\begin{axis}[panel,at={(383.1pt,292.08pt)}] \cells{\tBd} \fits \end{axis}

% z=1
\begin{axis}[panel,leftcol,at={(60pt,175.62pt)}] \cells{\tCa} \fits \end{axis}
\begin{axis}[panel,at={(167.7pt,175.62pt)}] \cells{\tCb} \fits \end{axis}
\begin{axis}[panel,at={(275.4pt,175.62pt)}] \cells{\tCc} \fits \end{axis}
\begin{axis}[panel,at={(383.1pt,175.62pt)}] \cells{\tCd} \fits \end{axis}

% z=2
\begin{axis}[panel,leftcol,botrow,at={(60pt,59.16pt)}] \cells{\tDa} \fits \end{axis}
\begin{axis}[panel,botrow,at={(167.7pt,59.16pt)}] \cells{\tDb} \fits \end{axis}
\begin{axis}[panel,botrow,at={(275.4pt,59.16pt)}] \cells{\tDc} \fits \end{axis}
\begin{axis}[panel,botrow,at={(383.1pt,59.16pt)}] \cells{\tDd} \fits \end{axis}

% text and key, in reference pixels
\begin{scope}[x=0.6pt,y=-0.6pt,yshift=555.6pt]
  \begin{scope}[every node/.style={font=\bfseries\fontsize{12.5}{13}\selectfont}]
    \node at (196,24) {\scalebox{.85}[1]{MORGANA}};
    \node at (370,24) {\scalebox{.95}[1]{WDL08}};
    \node at (552,24) {S08};
    \node at (734,24) {Observations};
  \end{scope}
  \begin{scope}[every node/.style={rotate=90,font=\lsans\bfseries\fontsize{15}{15}\selectfont}]
    \node at (57,142) {z=0.0};
    \node at (57,336) {z=0.5};
    \node at (57,530) {z=1.0};
    \node at (57,724) {z=2.0};
  \end{scope}
  \node[rotate=90,font=\bfseries\fontsize{15.5}{16}\selectfont] at (19,426) {\scalebox{1.2}[1]{Log(SFR/M$_*$)\enspace(yr$^{-1}$)}};
  \node[font=\bfseries\fontsize{16}{16}\selectfont] at (487,903) {log(M$_*$)\enspace(M$_\odot$)};
  \fill[gE] (835,155) rectangle (860,180);
  \fill[gD] (835,349) rectangle (860,374);
  \fill[gC] (835,504) rectangle (860,529);
  \fill[gB] (835,659) rectangle (860,684);
  \fill[gA] (835,796) rectangle (860,821);
  \begin{scope}[every node/.style={rotate=90,font=\lsans\bfseries\fontsize{14.5}{15}\selectfont}]
    \node at (848,123) {>−2};
    \node at (848,290) {[−2.5,−2]};
    \node at (848,437) {[−3,−2.5]};
    \node at (848,610) {[−4,−3]};
    \node at (848,748) {[−5,−4]};
  \end{scope}
\end{scope}
\end{tikzpicture}
\end{document}
